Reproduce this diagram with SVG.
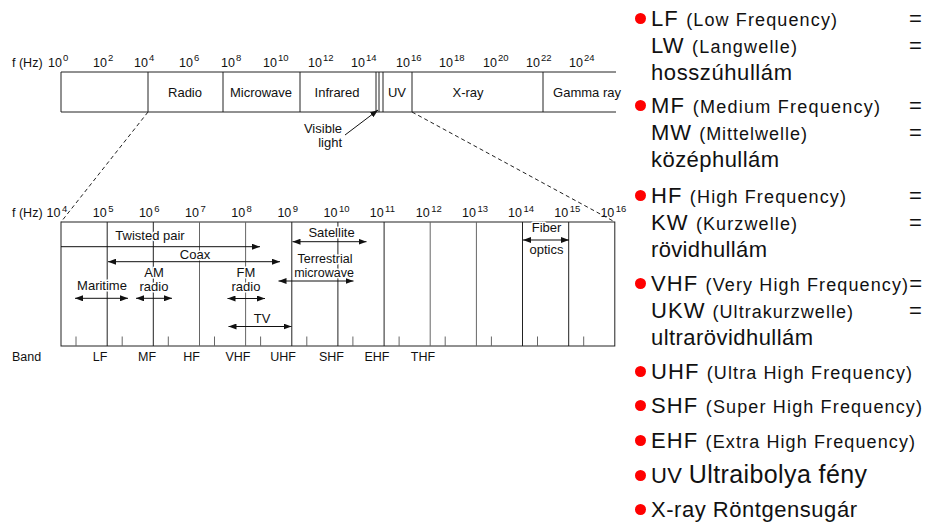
<svg xmlns="http://www.w3.org/2000/svg" width="926" height="523" viewBox="0 0 926 523">
<defs>
<marker id="ah" markerWidth="9" markerHeight="6" refX="8" refY="3" orient="auto-start-reverse" markerUnits="userSpaceOnUse"><path d="M0,0 L8,3 L0,6 z" fill="#111"/></marker>
</defs>
<style>
.t{font-family:"Liberation Sans",Arial,sans-serif;fill:#111}
.ax{font-size:12.5px}
.sp{font-size:9.5px}
.lb{font-size:13px}
.lbs{font-size:12.5px}
.hl{stroke:#fff;stroke-width:3;paint-order:stroke;stroke-linejoin:round}
.ln{stroke:#222;stroke-width:1;fill:none}
.gr{stroke:#666}
.ar{stroke:#111;stroke-width:1;fill:none;marker-end:url(#ah)}
.da{marker-start:url(#ah)}
.dash{stroke:#222;stroke-width:1;stroke-dasharray:4 3;fill:none}
.big{font-size:22px}
.sm{font-size:18px}
.ubig{font-size:25px}
.bul{fill:#f00}
.eq{font-size:22px}
</style>
<rect width="926" height="523" fill="#fff"/>

<g id="top-axis">
<text class="t ax" x="12" y="67">f (Hz)</text>
<text class="t ax" x="62" y="67" text-anchor="end">10</text><text class="t sp" x="63" y="61">0</text>
<text class="t ax" x="107" y="67" text-anchor="end">10</text><text class="t sp" x="108" y="61">2</text>
<text class="t ax" x="148" y="67" text-anchor="end">10</text><text class="t sp" x="149" y="61">4</text>
<text class="t ax" x="193" y="67" text-anchor="end">10</text><text class="t sp" x="194" y="61">6</text>
<text class="t ax" x="235" y="67" text-anchor="end">10</text><text class="t sp" x="236" y="61">8</text>
<text class="t ax" x="277" y="67" text-anchor="end">10</text><text class="t sp" x="278" y="61">10</text>
<text class="t ax" x="322" y="67" text-anchor="end">10</text><text class="t sp" x="323" y="61">12</text>
<text class="t ax" x="365" y="67" text-anchor="end">10</text><text class="t sp" x="366" y="61">14</text>
<text class="t ax" x="410" y="67" text-anchor="end">10</text><text class="t sp" x="411" y="61">16</text>
<text class="t ax" x="453" y="67" text-anchor="end">10</text><text class="t sp" x="454" y="61">18</text>
<text class="t ax" x="497" y="67" text-anchor="end">10</text><text class="t sp" x="498" y="61">20</text>
<text class="t ax" x="540" y="67" text-anchor="end">10</text><text class="t sp" x="541" y="61">22</text>
<text class="t ax" x="583" y="67" text-anchor="end">10</text><text class="t sp" x="584" y="61">24</text>
</g>

<g id="spectrum-bar">
<path class="ln" d="M616,72 H61 V112 H616"/>
<path class="ln" d="M148,72 V112 M223,72 V112 M300,72 V112 M376,72 V112 M379,72 V112 M383,72 V112 M412,72 V112 M543,72 V112"/>
<text class="t lb" x="185" y="97" text-anchor="middle">Radio</text>
<text class="t lb" x="261" y="97" text-anchor="middle">Microwave</text>
<text class="t lb" x="337" y="97" text-anchor="middle">Infrared</text>
<text class="t lb" x="397" y="97" text-anchor="middle">UV</text>
<text class="t lb" x="468" y="97" text-anchor="middle">X-ray</text>
<text class="t lb" x="587" y="97" text-anchor="middle">Gamma ray</text>
</g>

<g id="visible-light">
<text class="t lb" x="342" y="133" text-anchor="end">Visible</text>
<text class="t lb" x="342" y="147" text-anchor="end">light</text>
</g>

<g id="bottom-axis">
<text class="t ax" x="12" y="217">f (Hz)</text>
<text class="t ax" x="60.5" y="217" text-anchor="end">10</text><text class="t sp" x="62" y="212">4</text>
<text class="t ax" x="106.7" y="217" text-anchor="end">10</text><text class="t sp" x="108.2" y="212">5</text>
<text class="t ax" x="152.8" y="217" text-anchor="end">10</text><text class="t sp" x="154.3" y="212">6</text>
<text class="t ax" x="199" y="217" text-anchor="end">10</text><text class="t sp" x="200.5" y="212">7</text>
<text class="t ax" x="245.1" y="217" text-anchor="end">10</text><text class="t sp" x="246.6" y="212">8</text>
<text class="t ax" x="291.3" y="217" text-anchor="end">10</text><text class="t sp" x="292.8" y="212">9</text>
<text class="t ax" x="337.4" y="217" text-anchor="end">10</text><text class="t sp" x="338.9" y="212">10</text>
<text class="t ax" x="383.6" y="217" text-anchor="end">10</text><text class="t sp" x="385.1" y="212">11</text>
<text class="t ax" x="429.7" y="217" text-anchor="end">10</text><text class="t sp" x="431.2" y="212">12</text>
<text class="t ax" x="475.9" y="217" text-anchor="end">10</text><text class="t sp" x="477.4" y="212">13</text>
<text class="t ax" x="522" y="217" text-anchor="end">10</text><text class="t sp" x="523.5" y="212">14</text>
<text class="t ax" x="568.2" y="217" text-anchor="end">10</text><text class="t sp" x="569.7" y="212">15</text>
<text class="t ax" x="614.3" y="217" text-anchor="end">10</text><text class="t sp" x="615.8" y="212">16</text>
</g>

<g id="band-grid">
<rect class="ln" x="61" y="222" width="553.8" height="124"/>
<path class="ln" d="M107.2,222 V346 M153.3,222 V346 M291.8,222 V346 M337.9,222 V346 M384.1,222 V346 M522.5,222 V346 M568.7,222 V346"/>
<path class="ln gr" d="M199.5,222 V346 M245.6,222 V346 M430.2,222 V346 M476.4,222 V346"/>
<path class="ln gr" d="M76,336.5 V346 M122.2,336.5 V346 M168.3,336.5 V346 M214.5,336.5 V346 M260.6,336.5 V346 M306.8,336.5 V346 M352.9,336.5 V346 M399.1,336.5 V346 M445.2,336.5 V346 M491.4,336.5 V346 M537.5,336.5 V346 M583.7,336.5 V346"/>
</g>

<g id="bands">
<text class="t ax" x="12" y="361">Band</text>
<text class="t ax" x="100" y="361" text-anchor="middle">LF</text>
<text class="t ax" x="147" y="361" text-anchor="middle">MF</text>
<text class="t ax" x="191.5" y="361" text-anchor="middle">HF</text>
<text class="t ax" x="238" y="361" text-anchor="middle">VHF</text>
<text class="t ax" x="283" y="361" text-anchor="middle">UHF</text>
<text class="t ax" x="331.5" y="361" text-anchor="middle">SHF</text>
<text class="t ax" x="377" y="361" text-anchor="middle">EHF</text>
<text class="t ax" x="423" y="361" text-anchor="middle">THF</text>
</g>

<g id="media-labels">
<text class="t lb hl" x="150" y="239.5" text-anchor="middle">Twisted pair</text>
<text class="t lb hl" x="195" y="259" text-anchor="middle">Coax</text>
<text class="t lb hl" x="102" y="290" text-anchor="middle">Maritime</text>
<text class="t lb hl" x="154" y="277" text-anchor="middle">AM</text>
<text class="t lb hl" x="154" y="291" text-anchor="middle">radio</text>
<text class="t lb hl" x="246" y="277" text-anchor="middle">FM</text>
<text class="t lb hl" x="246" y="291" text-anchor="middle">radio</text>
<text class="t lb hl" x="262" y="323" text-anchor="middle">TV</text>
<text class="t lb hl" x="331.5" y="237" text-anchor="middle">Satellite</text>
<text class="t lbs hl" x="325" y="262.5" text-anchor="middle">Terrestrial</text>
<text class="t lbs hl" x="324" y="277" text-anchor="middle">microwave</text>
<text class="t lb hl" x="546.5" y="232" text-anchor="middle">Fiber</text>
<text class="t lb hl" x="546.5" y="254" text-anchor="middle">optics</text>
</g>

<g id="connectors">
<path class="dash" d="M148,112 L61,222"/>
<path class="dash" d="M412,112 L615,222"/>
<path class="ar" d="M345,135 L378,110"/>
<path class="ar" d="M61,246.7 H260"/>
<path class="ar da" d="M108,261.7 H280"/>
<path class="ar da" d="M75,298.3 H128"/>
<path class="ar da" d="M136,298.3 H172"/>
<path class="ar da" d="M227.5,298.5 H265"/>
<path class="ar da" d="M228.5,326.5 H291.5"/>
<path class="ar da" d="M292.5,241.7 H366.5"/>
<path class="ar da" d="M278.5,281 H353.5"/>
<path class="ar da" d="M523,240 H569"/>
</g>

<g id="item-lf">
<circle class="bul" cx="640.5" cy="18.5" r="5.5"/>
<text class="t" x="651" y="26" textLength="186" lengthAdjust="spacing"><tspan class="big">LF </tspan><tspan class="sm">(Low Frequency)</tspan></text>
<text class="t eq" x="909" y="26">=</text>
<text class="t" x="651" y="53" textLength="146" lengthAdjust="spacing"><tspan class="big">LW </tspan><tspan class="sm">(Langwelle)</tspan></text>
<text class="t eq" x="909" y="53">=</text>
<text class="t big" x="651" y="80" textLength="141" lengthAdjust="spacing">hosszúhullám</text>
</g>
<g id="item-mf">
<circle class="bul" cx="640.5" cy="105.5" r="5.5"/>
<text class="t" x="651" y="113" textLength="229" lengthAdjust="spacing"><tspan class="big">MF </tspan><tspan class="sm">(Medium Frequency)</tspan></text>
<text class="t eq" x="909" y="113">=</text>
<text class="t" x="651" y="140" textLength="156" lengthAdjust="spacing"><tspan class="big">MW </tspan><tspan class="sm">(Mittelwelle)</tspan></text>
<text class="t eq" x="909" y="140">=</text>
<text class="t big" x="651" y="167" textLength="128" lengthAdjust="spacing">középhullám</text>
</g>
<g id="item-hf">
<circle class="bul" cx="640.5" cy="195.5" r="5.5"/>
<text class="t" x="651" y="203" textLength="195" lengthAdjust="spacing"><tspan class="big">HF </tspan><tspan class="sm">(High Frequency)</tspan></text>
<text class="t eq" x="909" y="203">=</text>
<text class="t" x="651" y="230" textLength="146" lengthAdjust="spacing"><tspan class="big">KW </tspan><tspan class="sm">(Kurzwelle)</tspan></text>
<text class="t eq" x="909" y="230">=</text>
<text class="t big" x="651" y="257" textLength="116" lengthAdjust="spacing">rövidhullám</text>
</g>
<g id="item-vhf">
<circle class="bul" cx="640.5" cy="283.5" r="5.5"/>
<text class="t" x="651" y="291" textLength="271" lengthAdjust="spacing"><tspan class="big">VHF </tspan><tspan class="sm">(Very High Frequency)</tspan><tspan class="big">=</tspan></text>
<text class="t" x="651" y="318" textLength="202" lengthAdjust="spacing"><tspan class="big">UKW </tspan><tspan class="sm">(Ultrakurzwelle)</tspan></text>
<text class="t eq" x="909" y="318">=</text>
<text class="t big" x="651" y="345" textLength="162" lengthAdjust="spacing">ultrarövidhullám</text>
</g>
<g id="item-uhf">
<circle class="bul" cx="640.5" cy="371.5" r="5.5"/>
<text class="t" x="651" y="379" textLength="261" lengthAdjust="spacing"><tspan class="big">UHF </tspan><tspan class="sm">(Ultra High Frequency)</tspan></text>
</g>
<g id="item-shf">
<circle class="bul" cx="640.5" cy="405.5" r="5.5"/>
<text class="t" x="651" y="413" textLength="271" lengthAdjust="spacing"><tspan class="big">SHF </tspan><tspan class="sm">(Super High Frequency)</tspan></text>
</g>
<g id="item-ehf">
<circle class="bul" cx="640.5" cy="440.5" r="5.5"/>
<text class="t" x="651" y="448" textLength="264" lengthAdjust="spacing"><tspan class="big">EHF </tspan><tspan class="sm">(Extra High Frequency)</tspan></text>
</g>
<g id="item-uv">
<circle class="bul" cx="640.5" cy="475.5" r="5.5"/>
<text class="t" x="651" y="483" textLength="216" lengthAdjust="spacing"><tspan class="big">UV </tspan><tspan class="ubig">Ultraibolya fény</tspan></text>
</g>
<g id="item-xray">
<circle class="bul" cx="640.5" cy="509.5" r="5.5"/>
<text class="t big" x="651" y="517" textLength="206" lengthAdjust="spacing">X-ray Röntgensugár</text>
</g>
</svg>
